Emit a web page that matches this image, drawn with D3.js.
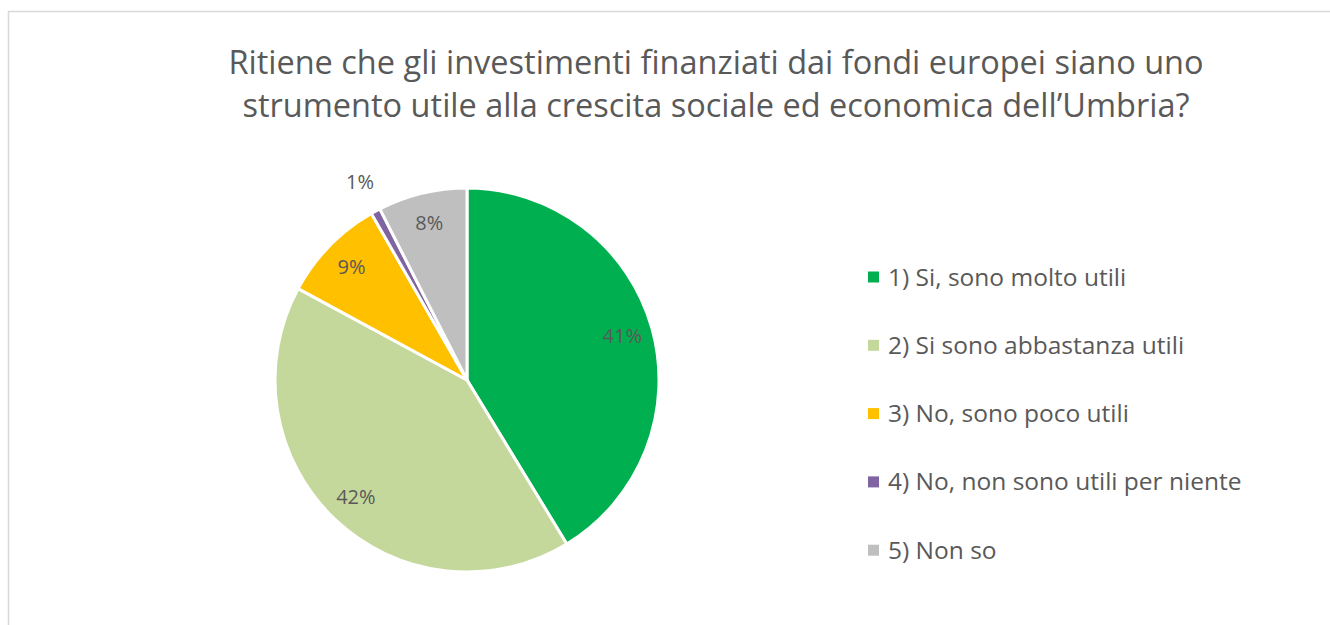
<!DOCTYPE html>
<html>
<head>
<meta charset="utf-8">
<script src="https://cdn.jsdelivr.net/npm/d3@7"></script>
<style>
  body { margin: 0; background: #fff; }
  text { font-family: 'Open Sans', sans-serif; fill: #595959; }
</style>
</head>
<body>
<svg id="chart" width="1330" height="625"></svg>
<script>
// answers and share of responses (%)
var categories = [
  '1) Si, sono molto utili',
  '2) Si sono abbastanza utili',
  '3) No, sono poco utili',
  '4) No, non sono utili per niente',
  '5) Non so'
];
var values = [41.3, 41.6, 8.8, 0.8, 7.5];
var colors = ['#00b050', '#c5d89c', '#ffc000', '#8064a2', '#bfbfbf'];
var titleLines = [
  'Ritiene che gli investimenti finanziati dai fondi europei siano uno',
  'strumento utile alla crescita sociale ed economica dell\u2019Umbria?'
];

var svg = d3.select('#chart');

// chart frame (runs off right and bottom edge)
svg.append('rect')
  .attr('x', 8.5).attr('y', 11.5)
  .attr('width', 1340).attr('height', 640)
  .attr('fill', 'none')
  .attr('stroke', '#d9d9d9')
  .attr('stroke-width', 1.5);

// title
svg.append('g').selectAll('text').data(titleLines)
  .enter().append('text')
  .attr('x', 716)
  .attr('y', function(d, i){ return 74 + i * 43 })
  .style('text-anchor', 'middle')
  .style('font-size', '32.5px')
  .text(function(d){ return d });

var data = categories.map(function(c, i){ return {name: c, value: values[i], color: colors[i]} });
var total = d3.sum(values);
var fmt = d3.format('.0%');

var pie = d3.pie().sort(null).value(function(d){ return d.value });
var r = 192;
var arc = d3.arc().innerRadius(0).outerRadius(r);
var labelArc = d3.arc().innerRadius(r * 0.84).outerRadius(r * 0.84);
var outArc = d3.arc().innerRadius(r * 1.17).outerRadius(r * 1.17);

var chart = svg.append('g').attr('transform', 'translate(467,380)');
var arcs = pie(data);

chart.selectAll('path').data(arcs)
  .enter().append('path')
  .attr('d', arc)
  .attr('fill', function(d){ return d.data.color })
  .attr('stroke', '#fff')
  .attr('stroke-width', 3)
  .attr('stroke-linejoin', 'round');

chart.selectAll('text').data(arcs)
  .enter().append('text')
  .attr('transform', function(d){
    var small = d.data.value / total < 0.02;
    return 'translate(' + (small ? outArc : labelArc).centroid(d) + ')';
  })
  .attr('dy', '0.35em')
  .style('text-anchor', 'middle')
  .style('font-size', '20px')
  .text(function(d){ return fmt(d.data.value / total) });

// legend
var legend = svg.append('g').attr('transform', 'translate(868,277)');
var rows = legend.selectAll('g').data(data)
  .enter().append('g')
  .attr('transform', function(d, i){ return 'translate(0,' + i * 68.3 + ')' });

rows.append('rect')
  .attr('x', 0).attr('y', -5.5)
  .attr('width', 11).attr('height', 11)
  .attr('fill', function(d){ return d.color });

rows.append('text')
  .attr('x', 20)
  .attr('dy', '0.35em')
  .style('font-size', '24.5px')
  .text(function(d){ return d.name });
</script>
</body>
</html>
